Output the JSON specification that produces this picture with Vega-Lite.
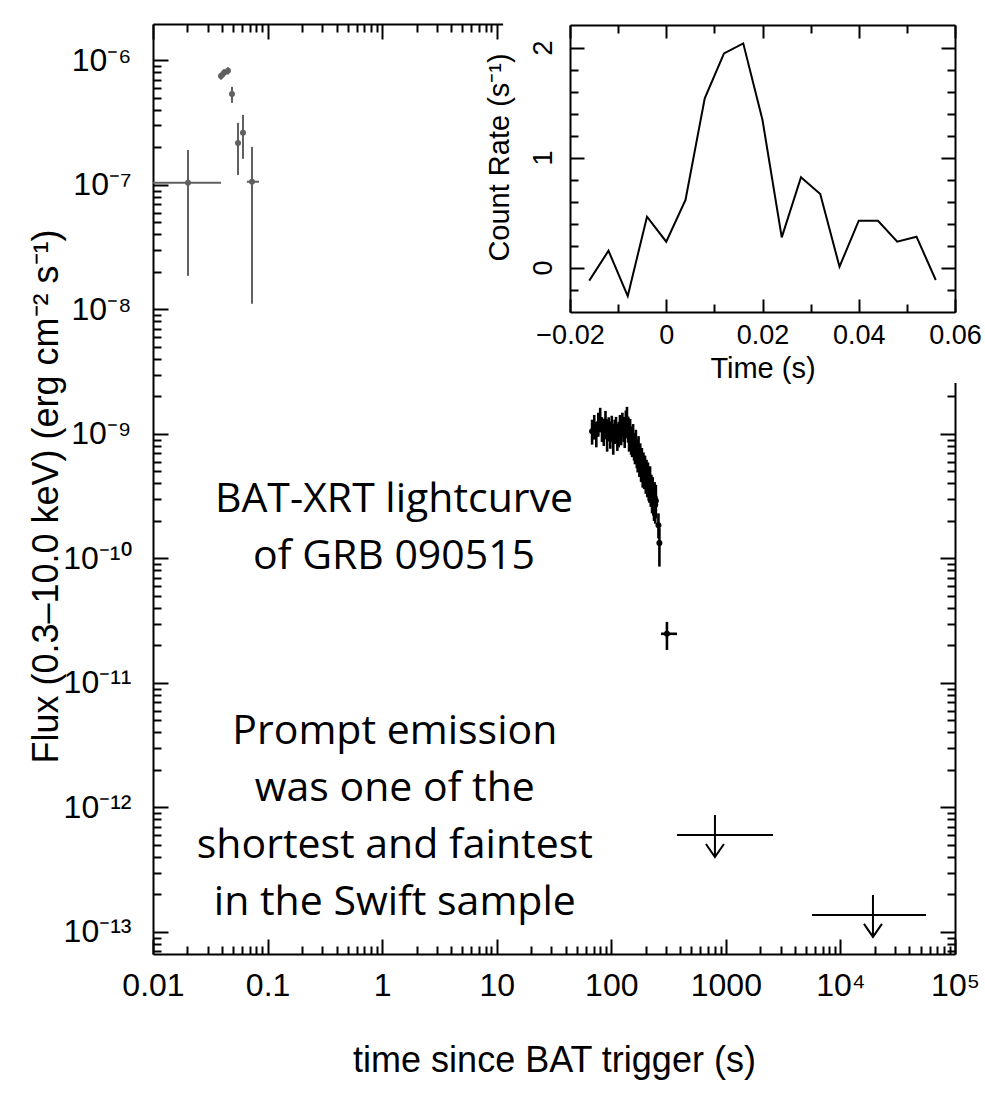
{
  "$schema": "https://vega.github.io/schema/vega-lite/v6.json",
  "width": 802,
  "height": 930,
  "autosize": {"type": "none"},
  "padding": {"left": 153, "top": 24, "right": 30, "bottom": 160},
  "background": "white",
  "config": {
    "view": {"stroke": null},
    "axis": {
      "grid": false,
      "ticks": true,
      "domainColor": "black",
      "domainWidth": 2,
      "tickColor": "black",
      "tickWidth": 2,
      "tickOpacity": 1,
      "labelColor": "black",
      "titleColor": "black",
      "labelFont": "Liberation Sans",
      "titleFont": "Liberation Sans",
      "titleFontWeight": "normal",
      "labelOverlap": false,
      "labelFlush": false,
      "labelBound": false
    }
  },
  "datasets": {
    "lc": [
      {"inst": "BAT", "t": 0.0202, "t_lo": 0.0012, "t_hi": 0.0392, "flux": 1.04e-7, "flux_lo": 1.86e-8, "flux_hi": 1.91e-7},
      {"inst": "BAT", "t": 0.0392, "t_lo": 0.0382, "t_hi": 0.0402, "flux": 7.5e-7, "flux_lo": 7.0e-7, "flux_hi": 8.0e-7},
      {"inst": "BAT", "t": 0.0417, "t_lo": 0.0407, "t_hi": 0.0427, "flux": 7.94e-7, "flux_lo": 7.4e-7, "flux_hi": 8.5e-7},
      {"inst": "BAT", "t": 0.0451, "t_lo": 0.0441, "t_hi": 0.0461, "flux": 8.24e-7, "flux_lo": 7.7e-7, "flux_hi": 8.8e-7},
      {"inst": "BAT", "t": 0.0489, "t_lo": 0.0482, "t_hi": 0.0496, "flux": 5.38e-7, "flux_lo": 4.56e-7, "flux_hi": 6.13e-7},
      {"inst": "BAT", "t": 0.0552, "t_lo": 0.0546, "t_hi": 0.0558, "flux": 2.17e-7, "flux_lo": 1.2e-7, "flux_hi": 3.15e-7},
      {"inst": "BAT", "t": 0.061, "t_lo": 0.0604, "t_hi": 0.0616, "flux": 2.62e-7, "flux_lo": 1.62e-7, "flux_hi": 3.65e-7},
      {"inst": "BAT", "t": 0.0731, "t_lo": 0.066, "t_hi": 0.0841, "flux": 1.06e-7, "flux_lo": 1.11e-8, "flux_hi": 2.02e-7},
      {"inst": "XRT", "t": 68, "t_lo": 66.5, "t_hi": 69.5, "flux": 1.05e-9, "flux_lo": 8.2e-10, "flux_hi": 1.30e-9},
      {"inst": "XRT", "t": 71, "t_lo": 69.5, "t_hi": 72.5, "flux": 1.15e-9, "flux_lo": 9.0e-10, "flux_hi": 1.42e-9},
      {"inst": "XRT", "t": 74, "t_lo": 72.5, "t_hi": 75.5, "flux": 1.00e-9, "flux_lo": 7.8e-10, "flux_hi": 1.25e-9},
      {"inst": "XRT", "t": 77, "t_lo": 75.5, "t_hi": 78.5, "flux": 1.20e-9, "flux_lo": 9.5e-10, "flux_hi": 1.48e-9},
      {"inst": "XRT", "t": 80, "t_lo": 78.5, "t_hi": 81.5, "flux": 1.30e-9, "flux_lo": 1.03e-9, "flux_hi": 1.62e-9},
      {"inst": "XRT", "t": 83, "t_lo": 81.5, "t_hi": 84.5, "flux": 1.10e-9, "flux_lo": 8.6e-10, "flux_hi": 1.36e-9},
      {"inst": "XRT", "t": 86, "t_lo": 84.5, "t_hi": 87.5, "flux": 1.05e-9, "flux_lo": 8.0e-10, "flux_hi": 1.32e-9},
      {"inst": "XRT", "t": 89, "t_lo": 87.5, "t_hi": 90.5, "flux": 1.25e-9, "flux_lo": 9.9e-10, "flux_hi": 1.53e-9},
      {"inst": "XRT", "t": 92, "t_lo": 90.5, "t_hi": 93.5, "flux": 9.5e-10, "flux_lo": 7.2e-10, "flux_hi": 1.20e-9},
      {"inst": "XRT", "t": 95, "t_lo": 93.5, "t_hi": 96.5, "flux": 1.10e-9, "flux_lo": 8.7e-10, "flux_hi": 1.36e-9},
      {"inst": "XRT", "t": 98, "t_lo": 96.5, "t_hi": 99.5, "flux": 1.00e-9, "flux_lo": 7.6e-10, "flux_hi": 1.26e-9},
      {"inst": "XRT", "t": 101, "t_lo": 99.5, "t_hi": 102.5, "flux": 1.15e-9, "flux_lo": 9.1e-10, "flux_hi": 1.40e-9},
      {"inst": "XRT", "t": 104, "t_lo": 102.5, "t_hi": 105.5, "flux": 9.0e-10, "flux_lo": 6.8e-10, "flux_hi": 1.14e-9},
      {"inst": "XRT", "t": 107, "t_lo": 105.5, "t_hi": 108.5, "flux": 1.05e-9, "flux_lo": 8.3e-10, "flux_hi": 1.30e-9},
      {"inst": "XRT", "t": 110, "t_lo": 108.5, "t_hi": 111.5, "flux": 1.10e-9, "flux_lo": 8.5e-10, "flux_hi": 1.37e-9},
      {"inst": "XRT", "t": 113, "t_lo": 111.5, "t_hi": 114.5, "flux": 9.5e-10, "flux_lo": 7.3e-10, "flux_hi": 1.20e-9},
      {"inst": "XRT", "t": 116, "t_lo": 114.5, "t_hi": 117.5, "flux": 1.00e-9, "flux_lo": 7.8e-10, "flux_hi": 1.25e-9},
      {"inst": "XRT", "t": 119, "t_lo": 117.5, "t_hi": 120.5, "flux": 1.15e-9, "flux_lo": 9.0e-10, "flux_hi": 1.42e-9},
      {"inst": "XRT", "t": 122, "t_lo": 120.5, "t_hi": 123.5, "flux": 1.05e-9, "flux_lo": 8.1e-10, "flux_hi": 1.31e-9},
      {"inst": "XRT", "t": 125, "t_lo": 123.5, "t_hi": 126.5, "flux": 1.20e-9, "flux_lo": 9.4e-10, "flux_hi": 1.48e-9},
      {"inst": "XRT", "t": 128, "t_lo": 126.5, "t_hi": 129.5, "flux": 1.10e-9, "flux_lo": 8.6e-10, "flux_hi": 1.37e-9},
      {"inst": "XRT", "t": 131, "t_lo": 129.5, "t_hi": 132.5, "flux": 1.00e-9, "flux_lo": 7.7e-10, "flux_hi": 1.26e-9},
      {"inst": "XRT", "t": 134, "t_lo": 132.5, "t_hi": 135.5, "flux": 1.25e-9, "flux_lo": 9.8e-10, "flux_hi": 1.54e-9},
      {"inst": "XRT", "t": 137, "t_lo": 135.5, "t_hi": 138.5, "flux": 1.30e-9, "flux_lo": 1.02e-9, "flux_hi": 1.65e-9},
      {"inst": "XRT", "t": 140, "t_lo": 138.5, "t_hi": 141.5, "flux": 1.10e-9, "flux_lo": 8.5e-10, "flux_hi": 1.38e-9},
      {"inst": "XRT", "t": 143, "t_lo": 141.5, "t_hi": 144.5, "flux": 9.5e-10, "flux_lo": 7.2e-10, "flux_hi": 1.21e-9},
      {"inst": "XRT", "t": 146, "t_lo": 144.5, "t_hi": 147.5, "flux": 1.05e-9, "flux_lo": 8.1e-10, "flux_hi": 1.32e-9},
      {"inst": "XRT", "t": 149, "t_lo": 147.5, "t_hi": 150.5, "flux": 9.0e-10, "flux_lo": 6.8e-10, "flux_hi": 1.15e-9},
      {"inst": "XRT", "t": 152, "t_lo": 150.5, "t_hi": 153.5, "flux": 8.5e-10, "flux_lo": 6.5e-10, "flux_hi": 1.08e-9},
      {"inst": "XRT", "t": 155, "t_lo": 153.5, "t_hi": 156.5, "flux": 9.5e-10, "flux_lo": 7.3e-10, "flux_hi": 1.20e-9},
      {"inst": "XRT", "t": 158, "t_lo": 156.5, "t_hi": 159.5, "flux": 8.0e-10, "flux_lo": 6.1e-10, "flux_hi": 1.02e-9},
      {"inst": "XRT", "t": 161, "t_lo": 159.5, "t_hi": 162.5, "flux": 7.5e-10, "flux_lo": 5.7e-10, "flux_hi": 9.6e-10},
      {"inst": "XRT", "t": 164, "t_lo": 162.5, "t_hi": 165.5, "flux": 8.5e-10, "flux_lo": 6.5e-10, "flux_hi": 1.08e-9},
      {"inst": "XRT", "t": 167, "t_lo": 165.5, "t_hi": 168.5, "flux": 7.0e-10, "flux_lo": 5.3e-10, "flux_hi": 9.0e-10},
      {"inst": "XRT", "t": 170, "t_lo": 168.5, "t_hi": 171.5, "flux": 6.5e-10, "flux_lo": 4.9e-10, "flux_hi": 8.4e-10},
      {"inst": "XRT", "t": 173, "t_lo": 171.5, "t_hi": 174.5, "flux": 7.5e-10, "flux_lo": 5.7e-10, "flux_hi": 9.6e-10},
      {"inst": "XRT", "t": 176, "t_lo": 174.5, "t_hi": 177.5, "flux": 6.0e-10, "flux_lo": 4.5e-10, "flux_hi": 7.8e-10},
      {"inst": "XRT", "t": 179, "t_lo": 177.5, "t_hi": 180.5, "flux": 6.5e-10, "flux_lo": 4.9e-10, "flux_hi": 8.4e-10},
      {"inst": "XRT", "t": 182, "t_lo": 180.5, "t_hi": 183.5, "flux": 5.5e-10, "flux_lo": 4.1e-10, "flux_hi": 7.1e-10},
      {"inst": "XRT", "t": 185, "t_lo": 183.5, "t_hi": 186.5, "flux": 6.0e-10, "flux_lo": 4.5e-10, "flux_hi": 7.7e-10},
      {"inst": "XRT", "t": 188, "t_lo": 186.5, "t_hi": 189.5, "flux": 5.0e-10, "flux_lo": 3.7e-10, "flux_hi": 6.5e-10},
      {"inst": "XRT", "t": 191, "t_lo": 189.5, "t_hi": 192.5, "flux": 5.5e-10, "flux_lo": 4.1e-10, "flux_hi": 7.1e-10},
      {"inst": "XRT", "t": 194, "t_lo": 192.5, "t_hi": 195.5, "flux": 4.8e-10, "flux_lo": 3.6e-10, "flux_hi": 6.2e-10},
      {"inst": "XRT", "t": 197, "t_lo": 195.5, "t_hi": 198.5, "flux": 5.2e-10, "flux_lo": 3.9e-10, "flux_hi": 6.7e-10},
      {"inst": "XRT", "t": 200, "t_lo": 198.5, "t_hi": 201.5, "flux": 4.5e-10, "flux_lo": 3.3e-10, "flux_hi": 5.9e-10},
      {"inst": "XRT", "t": 203, "t_lo": 201.5, "t_hi": 204.5, "flux": 4.8e-10, "flux_lo": 3.6e-10, "flux_hi": 6.2e-10},
      {"inst": "XRT", "t": 206, "t_lo": 204.5, "t_hi": 207.5, "flux": 4.2e-10, "flux_lo": 3.1e-10, "flux_hi": 5.5e-10},
      {"inst": "XRT", "t": 209, "t_lo": 207.5, "t_hi": 210.5, "flux": 4.5e-10, "flux_lo": 3.3e-10, "flux_hi": 5.9e-10},
      {"inst": "XRT", "t": 212, "t_lo": 210.5, "t_hi": 213.5, "flux": 4.0e-10, "flux_lo": 2.9e-10, "flux_hi": 5.2e-10},
      {"inst": "XRT", "t": 215, "t_lo": 213.5, "t_hi": 216.5, "flux": 3.8e-10, "flux_lo": 2.8e-10, "flux_hi": 5.0e-10},
      {"inst": "XRT", "t": 218, "t_lo": 216.5, "t_hi": 219.5, "flux": 4.2e-10, "flux_lo": 3.1e-10, "flux_hi": 5.5e-10},
      {"inst": "XRT", "t": 221, "t_lo": 219.5, "t_hi": 222.5, "flux": 3.5e-10, "flux_lo": 2.6e-10, "flux_hi": 4.6e-10},
      {"inst": "XRT", "t": 224, "t_lo": 222.5, "t_hi": 225.5, "flux": 3.6e-10, "flux_lo": 2.6e-10, "flux_hi": 4.7e-10},
      {"inst": "XRT", "t": 227, "t_lo": 225.5, "t_hi": 228.5, "flux": 3.2e-10, "flux_lo": 2.3e-10, "flux_hi": 4.2e-10},
      {"inst": "XRT", "t": 230, "t_lo": 228.5, "t_hi": 231.5, "flux": 3.4e-10, "flux_lo": 2.5e-10, "flux_hi": 4.5e-10},
      {"inst": "XRT", "t": 233, "t_lo": 231.5, "t_hi": 234.5, "flux": 3.0e-10, "flux_lo": 2.2e-10, "flux_hi": 4.0e-10},
      {"inst": "XRT", "t": 236, "t_lo": 234.5, "t_hi": 237.5, "flux": 2.8e-10, "flux_lo": 2.0e-10, "flux_hi": 3.7e-10},
      {"inst": "XRT", "t": 239, "t_lo": 237.5, "t_hi": 240.5, "flux": 3.1e-10, "flux_lo": 2.2e-10, "flux_hi": 4.1e-10},
      {"inst": "XRT", "t": 242, "t_lo": 240.5, "t_hi": 243.5, "flux": 2.7e-10, "flux_lo": 1.9e-10, "flux_hi": 3.6e-10},
      {"inst": "XRT", "t": 245, "t_lo": 243.5, "t_hi": 246.5, "flux": 2.9e-10, "flux_lo": 2.1e-10, "flux_hi": 3.9e-10},
      {"inst": "XRT", "t": 258, "t_lo": 256.5, "t_hi": 259.5, "flux": 1.85e-10, "flux_lo": 1.45e-10, "flux_hi": 2.3e-10},
      {"inst": "XRT", "t": 263, "t_lo": 261, "t_hi": 265, "flux": 1.33e-10, "flux_lo": 8.6e-11, "flux_hi": 1.75e-10},
      {"inst": "XRT", "t": 306, "t_lo": 272, "t_hi": 375, "flux": 2.48e-11, "flux_lo": 1.84e-11, "flux_hi": 3.09e-11}
    ],
    "upper_limits": [
      {"t": 803, "t_lo": 375, "t_hi": 2578, "flux": 6.01e-13},
      {"t": 19230, "t_lo": 5650, "t_hi": 55850, "flux": 1.37e-13}
    ],
    "notes": [
      {"t": 1.27, "flux": 2.36e-10, "label": "BAT-XRT lightcurve\nof GRB 090515"},
      {"t": 1.29, "flux": 3.24e-12, "label": "Prompt emission\nwas one of the\nshortest and faintest\nin the Swift sample"}
    ],
    "bat_rate": [
      {"time": -0.016, "rate": -0.115},
      {"time": -0.012, "rate": 0.157},
      {"time": -0.008, "rate": -0.255},
      {"time": -0.004, "rate": 0.467},
      {"time": 0.0, "rate": 0.239},
      {"time": 0.004, "rate": 0.619},
      {"time": 0.008, "rate": 1.543},
      {"time": 0.012, "rate": 1.952},
      {"time": 0.016, "rate": 2.043},
      {"time": 0.02, "rate": 1.346},
      {"time": 0.024, "rate": 0.279},
      {"time": 0.028, "rate": 0.825},
      {"time": 0.032, "rate": 0.673},
      {"time": 0.036, "rate": 0.012},
      {"time": 0.04, "rate": 0.43},
      {"time": 0.044, "rate": 0.43},
      {"time": 0.048, "rate": 0.239},
      {"time": 0.052, "rate": 0.285},
      {"time": 0.056, "rate": -0.109}
    ],
    "rate_labels": [
      {"rate": 0, "text": "0"},
      {"rate": 1, "text": "1"},
      {"rate": 2, "text": "2"}
    ],
    "inset_panel": [
      {"x0": -0.0339, "x1": 0.0673, "y0": -1.046, "y1": 2.528}
    ]
  },
  "layer": [
    {
      "layer": [
        {
          "data": {"name": "lc"},
          "mark": {"type": "rule", "clip": true},
          "encoding": {
            "x": {
              "field": "t_lo", "type": "quantitative",
              "scale": {"type": "log", "domain": [0.01, 100000], "nice": false},
              "axis": {
                "orient": "bottom",
                "values": [0.01, 0.1, 1, 10, 100, 1000, 10000, 100000],
                "ticks": true,
                "tickSize": -15,
                "labelExpr": "datum.value < 0.05 ? '0.01' : datum.value < 0.5 ? '0.1' : datum.value < 5 ? '1' : datum.value < 50 ? '10' : datum.value < 500 ? '100' : datum.value < 5000 ? '1000' : datum.value < 50000 ? '10⁴' : '10⁵'",
                "labelFontSize": 32,
                "labelPadding": 56,
                "labelAlign": "center",
                "labelBaseline": "alphabetic",
                "title": "time since BAT trigger (s)",
                "titleFontSize": 36,
                "titleY": 117,
                "titleBaseline": "alphabetic"
              }
            },
            "x2": {"field": "t_hi"},
            "y": {
              "field": "flux", "type": "quantitative",
              "scale": {"type": "log", "domain": [6.65e-14, 1.96e-6], "nice": false},
              "axis": {
                "orient": "left",
                "values": [1e-13, 1e-12, 1e-11, 1e-10, 1e-9, 1e-8, 1e-7, 1e-6],
                "ticks": true,
                "tickSize": -15,
                "labelExpr": "'10⁻' + (round(-log(datum.value)/LN10) >= 10 ? '¹' + substring('⁰¹²³', round(-log(datum.value)/LN10) - 10, round(-log(datum.value)/LN10) - 9) : substring('⁶⁷⁸⁹', round(-log(datum.value)/LN10) - 6, round(-log(datum.value)/LN10) - 5))",
                "labelFontSize": 32,
                "labelPadding": 37,
                "labelAlign": "right",
                "labelBaseline": "middle",
                "title": "Flux (0.3–10.0 keV) (erg cm⁻² s⁻¹)",
                "titleFontSize": 36,
                "titleAngle": -90,
                "titleX": -96,
                "titleY": 472,
                "titleAlign": "center",
                "titleBaseline": "alphabetic"
              }
            },
            "color": {"field": "inst", "type": "nominal", "scale": {"domain": ["BAT", "XRT"], "range": ["#606060", "#000000"]}, "legend": null},
            "strokeWidth": {"field": "inst", "type": "nominal", "scale": {"domain": ["BAT", "XRT"], "range": [2, 2.6]}, "legend": null}
          }
        },
        {
          "data": {"name": "lc"},
          "mark": {"type": "rule"},
          "encoding": {
            "x": {
              "field": "t", "type": "quantitative",
              "scale": {"type": "log", "domain": [0.01, 100000], "nice": false},
              "axis": {"orient": "top", "values": [0.01, 0.1, 1, 10, 100, 1000, 10000, 100000], "ticks": true, "tickSize": -15, "labels": false, "title": null}
            },
            "y": {
              "field": "flux_lo", "type": "quantitative",
              "scale": {"type": "log", "domain": [6.65e-14, 1.96e-6], "nice": false},
              "axis": {"orient": "right", "values": [1e-13, 1e-12, 1e-11, 1e-10, 1e-9, 1e-8, 1e-7, 1e-6], "ticks": true, "tickSize": -15, "labels": false, "title": null}
            },
            "y2": {"field": "flux_hi"},
            "color": {"field": "inst", "type": "nominal", "scale": {"domain": ["BAT", "XRT"], "range": ["#606060", "#000000"]}, "legend": null},
            "strokeWidth": {"field": "inst", "type": "nominal", "scale": {"domain": ["BAT", "XRT"], "range": [2, 2.6]}, "legend": null}
          }
        },
        {
          "data": {"name": "lc"},
          "mark": {"type": "point", "shape": "circle", "filled": true, "size": 36, "opacity": 1},
          "encoding": {
            "x": {
              "field": "t", "type": "quantitative",
              "scale": {"type": "log", "domain": [0.01, 100000], "nice": false},
              "axis": {"orient": "bottom", "values": [0.02,0.03,0.04,0.05,0.06,0.07,0.08,0.09,0.2,0.3,0.4,0.5,0.6,0.7,0.8,0.9,2,3,4,5,6,7,8,9,20,30,40,50,60,70,80,90,200,300,400,500,600,700,800,900,2000,3000,4000,5000,6000,7000,8000,9000,20000,30000,40000,50000,60000,70000,80000,90000], "ticks": true, "tickSize": -8, "labels": false, "domain": false, "title": null}
            },
            "y": {
              "field": "flux", "type": "quantitative",
              "scale": {"type": "log", "domain": [6.65e-14, 1.96e-6], "nice": false},
              "axis": {"orient": "left", "values": [7e-14,8e-14,9e-14,2e-13,3e-13,4e-13,5e-13,6e-13,7e-13,8e-13,9e-13,2e-12,3e-12,4e-12,5e-12,6e-12,7e-12,8e-12,9e-12,2e-11,3e-11,4e-11,5e-11,6e-11,7e-11,8e-11,9e-11,2e-10,3e-10,4e-10,5e-10,6e-10,7e-10,8e-10,9e-10,2e-9,3e-9,4e-9,5e-9,6e-9,7e-9,8e-9,9e-9,2e-8,3e-8,4e-8,5e-8,6e-8,7e-8,8e-8,9e-8,2e-7,3e-7,4e-7,5e-7,6e-7,7e-7,8e-7,9e-7], "ticks": true, "tickSize": -8, "labels": false, "domain": false, "title": null}
            },
            "color": {"field": "inst", "type": "nominal", "scale": {"domain": ["BAT", "XRT"], "range": ["#606060", "#000000"]}, "legend": null}
          }
        },
        {
          "data": {"name": "upper_limits"},
          "mark": {"type": "rule", "strokeWidth": 2, "color": "black"},
          "encoding": {
            "x": {
              "field": "t_lo", "type": "quantitative",
              "scale": {"type": "log", "domain": [0.01, 100000], "nice": false},
              "axis": {"orient": "top", "values": [0.02,0.03,0.04,0.05,0.06,0.07,0.08,0.09,0.2,0.3,0.4,0.5,0.6,0.7,0.8,0.9,2,3,4,5,6,7,8,9,20,30,40,50,60,70,80,90,200,300,400,500,600,700,800,900,2000,3000,4000,5000,6000,7000,8000,9000,20000,30000,40000,50000,60000,70000,80000,90000], "ticks": true, "tickSize": -8, "labels": false, "domain": false, "title": null}
            },
            "x2": {"field": "t_hi"},
            "y": {
              "field": "flux", "type": "quantitative",
              "scale": {"type": "log", "domain": [6.65e-14, 1.96e-6], "nice": false},
              "axis": {"orient": "right", "values": [7e-14,8e-14,9e-14,2e-13,3e-13,4e-13,5e-13,6e-13,7e-13,8e-13,9e-13,2e-12,3e-12,4e-12,5e-12,6e-12,7e-12,8e-12,9e-12,2e-11,3e-11,4e-11,5e-11,6e-11,7e-11,8e-11,9e-11,2e-10,3e-10,4e-10,5e-10,6e-10,7e-10,8e-10,9e-10,2e-9,3e-9,4e-9,5e-9,6e-9,7e-9,8e-9,9e-9,2e-8,3e-8,4e-8,5e-8,6e-8,7e-8,8e-8,9e-8,2e-7,3e-7,4e-7,5e-7,6e-7,7e-7,8e-7,9e-7], "ticks": true, "tickSize": -8, "labels": false, "domain": false, "title": null}
            }
          }
        },
        {
          "data": {"name": "upper_limits"},
          "mark": {"type": "point", "shape": "M0,-1L0,1.1M-0.45,0.45L0,1.1L0.45,0.45", "size": 1600, "filled": false, "stroke": "black", "strokeWidth": 2, "opacity": 1},
          "encoding": {
            "x": {"field": "t", "type": "quantitative", "scale": {"type": "log", "domain": [0.01, 100000], "nice": false}, "axis": null},
            "y": {"field": "flux", "type": "quantitative", "scale": {"type": "log", "domain": [6.65e-14, 1.96e-6], "nice": false}, "axis": null}
          }
        },
        {
          "data": {"name": "notes"},
          "mark": {"type": "text", "font": "Open Sans", "fontSize": 41, "lineHeight": 57, "lineBreak": "\n", "align": "center", "baseline": "alphabetic", "color": "black"},
          "encoding": {
            "x": {"field": "t", "type": "quantitative", "scale": {"type": "log", "domain": [0.01, 100000], "nice": false}, "axis": null},
            "y": {"field": "flux", "type": "quantitative", "scale": {"type": "log", "domain": [6.65e-14, 1.96e-6], "nice": false}, "axis": null},
            "text": {"field": "label"}
          }
        }
      ],
      "resolve": {"axis": {"x": "independent", "y": "independent"}}
    },
    {
      "layer": [
        {
          "data": {"name": "inset_panel"},
          "mark": {"type": "rect", "fill": "white", "stroke": null},
          "encoding": {
            "x": {
              "field": "x0", "type": "quantitative",
              "scale": {"domain": [-0.02, 0.06], "range": [417, 802], "nice": false, "zero": false},
              "axis": {
                "orient": "bottom",
                "offset": -642,
                "zindex": 1,
                "values": [-0.02, -0.01, 0, 0.01, 0.02, 0.03, 0.04, 0.05, 0.06],
                "ticks": true,
                "tickSize": -13,
                "tickDash": {"condition": {"test": "abs(datum.value*50 - round(datum.value*50)) < 0.001", "value": []}, "value": [8, 100]},
                "labelExpr": "abs(datum.value*50 - round(datum.value*50)) < 0.001 ? (datum.value == 0 ? '0' : replace(format(datum.value, '.2f'), '-', '−')) : ''",
                "labelFontSize": 27,
                "labelPadding": 44,
                "labelAlign": "center",
                "labelBaseline": "alphabetic",
                "title": "Time (s)",
                "titleFontSize": 29,
                "titleY": 65,
                "titleBaseline": "alphabetic"
              }
            },
            "x2": {"field": "x1"},
            "y": {
              "field": "y0", "type": "quantitative",
              "scale": {"domain": [-0.4, 2.21], "range": [288, 1], "nice": false, "zero": false},
              "axis": {
                "orient": "left",
                "offset": -417,
                "zindex": 1,
                "values": [-0.2, 0, 0.2, 0.4, 0.6, 0.8, 1, 1.2, 1.4, 1.6, 1.8, 2],
                "ticks": true,
                "tickSize": -14,
                "tickDash": {"condition": {"test": "abs(datum.value - round(datum.value)) < 0.001", "value": []}, "value": [8, 100]},
                "labels": false,
                "title": "Count Rate (s⁻¹)",
                "titleFontSize": 29,
                "titleAngle": -90,
                "titleX": -62,
                "titleY": 133,
                "titleAlign": "center",
                "titleBaseline": "alphabetic"
              }
            },
            "y2": {"field": "y1"}
          }
        },
        {
          "data": {"name": "bat_rate"},
          "mark": {"type": "line", "color": "black", "strokeWidth": 2},
          "encoding": {
            "x": {
              "field": "time", "type": "quantitative",
              "scale": {"domain": [-0.02, 0.06], "range": [417, 802], "nice": false, "zero": false},
              "axis": {
                "orient": "top",
                "offset": -1,
                "zindex": 1,
                "values": [-0.02, -0.01, 0, 0.01, 0.02, 0.03, 0.04, 0.05, 0.06],
                "ticks": true,
                "tickSize": -13,
                "tickDash": {"condition": {"test": "abs(datum.value*50 - round(datum.value*50)) < 0.001", "value": []}, "value": [8, 100]},
                "labels": false,
                "title": null
              }
            },
            "y": {
              "field": "rate", "type": "quantitative",
              "scale": {"domain": [-0.4, 2.21], "range": [288, 1], "nice": false, "zero": false},
              "axis": {
                "orient": "right",
                "offset": 0,
                "zindex": 1,
                "values": [-0.2, 0, 0.2, 0.4, 0.6, 0.8, 1, 1.2, 1.4, 1.6, 1.8, 2],
                "ticks": true,
                "tickSize": -14,
                "tickDash": {"condition": {"test": "abs(datum.value - round(datum.value)) < 0.001", "value": []}, "value": [8, 100]},
                "labels": false,
                "title": null
              }
            }
          }
        },
        {
          "data": {"name": "rate_labels"},
          "mark": {"type": "text", "angle": 270, "align": "center", "baseline": "alphabetic", "dy": -18, "font": "Liberation Sans", "fontSize": 27, "color": "black"},
          "encoding": {
            "x": {"datum": -0.02, "type": "quantitative", "scale": {"domain": [-0.02, 0.06], "range": [417, 802], "nice": false, "zero": false}, "axis": null},
            "y": {"field": "rate", "type": "quantitative", "scale": {"domain": [-0.4, 2.21], "range": [288, 1], "nice": false, "zero": false}, "axis": null},
            "text": {"field": "text"}
          }
        }
      ],
      "resolve": {"axis": {"x": "independent", "y": "independent"}}
    }
  ],
  "resolve": {"scale": {"x": "independent", "y": "independent"}}
}
